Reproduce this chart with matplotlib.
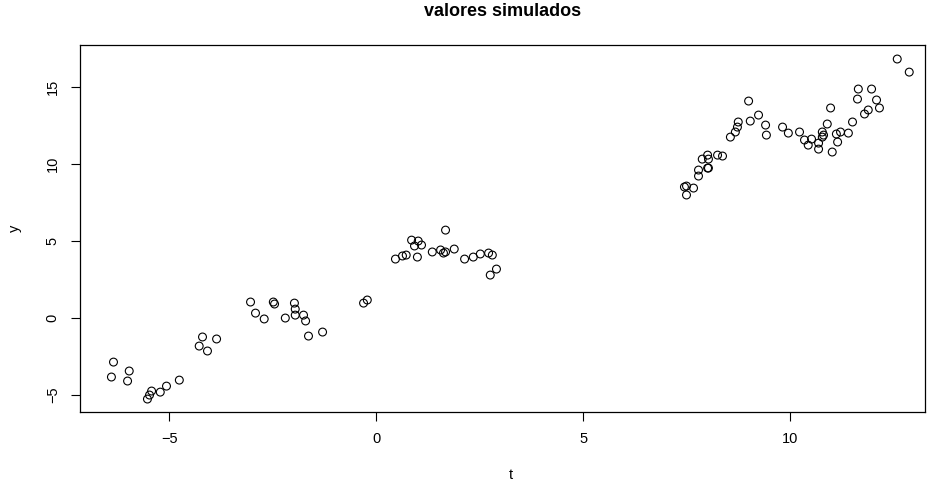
import matplotlib
matplotlib.use("Agg")
import matplotlib.pyplot as plt
import numpy as np

# valores
t = [-6.35, -6.40, -5.97, -6.01, -5.43, -5.48, -5.53, -5.22, -5.07, -4.76,
     -4.20, -4.28, -4.08, -3.86, -3.04, -2.92, -2.71, -2.49, -2.46, -2.20,
     -1.98, -1.96, -1.96, -1.76, -1.71, -1.64, -1.30, -0.31, -0.22,
     0.46, 0.63, 0.72, 0.85, 1.01, 0.92, 1.09, 0.99, 1.67, 1.35,
     1.55, 1.62, 1.67, 1.88, 2.13, 2.34, 2.51, 2.71, 2.80, 2.90, 2.75,
     7.49, 7.44, 7.49, 7.66, 7.78, 7.78, 8.00, 8.02, 7.87, 8.00,
     8.02, 8.24, 8.36, 8.55, 8.67, 8.72, 8.74, 8.99, 9.03, 9.23,
     9.40, 9.42, 9.81, 9.95, 10.22, 10.34, 10.43, 10.51, 10.68, 10.68,
     10.77, 10.80, 10.77, 11.01, 11.14, 11.11, 11.21, 11.40, 10.97, 10.89,
     11.50, 11.79, 11.88, 12.15, 12.08, 11.62, 11.64, 11.96, 12.58, 12.87]
y = [-2.86, -3.83, -3.44, -4.09, -4.74, -5.00, -5.26, -4.81, -4.42, -4.03,
     -1.23, -1.82, -2.14, -1.36, 1.04, 0.32, -0.06, 1.04, 0.91, 0.00,
     0.97, 0.58, 0.19, 0.19, -0.19, -1.17, -0.91, 0.97, 1.17,
     3.83, 4.03, 4.09, 5.06, 5.00, 4.68, 4.74, 3.96, 5.71, 4.29,
     4.42, 4.22, 4.29, 4.48, 3.83, 3.96, 4.16, 4.22, 4.09, 3.18, 2.79,
     7.99, 8.51, 8.57, 8.44, 9.22, 9.61, 9.74, 9.74, 10.32, 10.58,
     10.32, 10.58, 10.52, 11.75, 12.08, 12.40, 12.73, 14.09, 12.79, 13.18,
     12.53, 11.88, 12.40, 12.01, 12.08, 11.56, 11.23, 11.62, 10.97, 11.36,
     12.08, 11.88, 11.75, 10.78, 11.43, 11.95, 12.08, 12.01, 13.64, 12.60,
     12.73, 13.25, 13.51, 13.64, 14.16, 14.22, 14.87, 14.87, 16.82, 15.97]

xticks = [-5, 0, 5, 10]
yticks = [-5, 0, 5, 10, 15]

plt.rcParams['font.family'] = ['Liberation Sans', 'DejaVu Sans']

fig = plt.figure(figsize=(9.33, 4.86), dpi=100)
ax = fig.add_axes([0.0857, 0.1523, 0.9057, 0.7551])
ax.scatter(t, y, s=32, facecolors='none', edgecolors='black', linewidths=0.8)
ax.set_xlim(-7.16, 13.25)
ax.set_ylim(-6.10, 17.73)
ax.set_xticks(xticks)
ax.set_yticks(yticks)
ax.set_xticklabels([str(v).replace('-', '\u2212') for v in xticks], fontsize=10.5)
ax.set_yticklabels([str(v).replace('-', '\u2212') for v in yticks], fontsize=10.5,
                   rotation=90, va='center')
ax.tick_params(length=6.5, width=0.8, pad=8)
for s in ax.spines.values():
    s.set_linewidth(0.9)
ax.set_title("valores simulados", fontsize=13, fontweight='bold', pad=21)
ax.set_xlabel("t", fontsize=10.5)
ax.xaxis.set_label_coords(0.51, -0.152)
ax.set_ylabel("y", fontsize=10.5, labelpad=17)

fig.savefig("out.png", dpi=100)
